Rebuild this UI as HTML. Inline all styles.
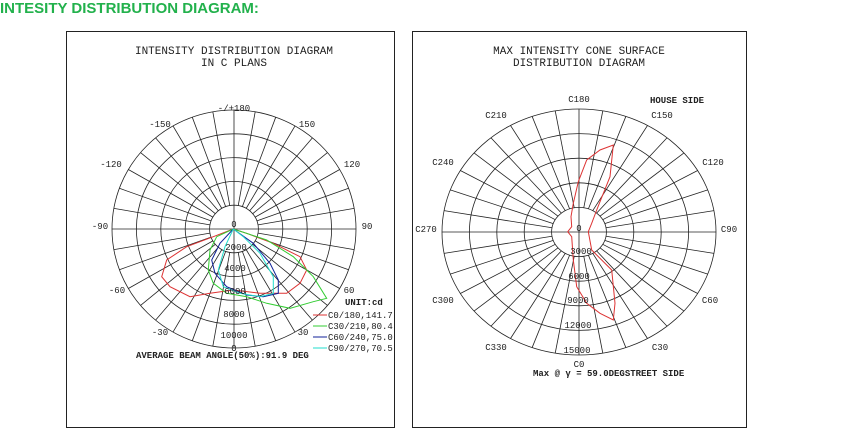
<!DOCTYPE html>
<html><head><meta charset="utf-8"><style>
body{margin:0;background:#fff;width:861px;height:441px;overflow:hidden;position:relative}
.h{position:absolute;left:0;top:0;font:bold 15px "Liberation Sans",sans-serif;color:#22b14c}
svg{position:absolute;left:0;top:0}
svg text{font-family:"Liberation Mono","DejaVu Sans Mono",monospace;font-size:9px;fill:#222}
svg text.t{font-size:11px}
</style></head><body>
<div class="h">INTESITY DISTRIBUTION DIAGRAM:</div>
<svg id="s" width="861" height="441" font-family="Liberation Mono, monospace">
<rect x="66.5" y="31.5" width="328" height="396" fill="none" stroke="#222"/>
<rect x="412.5" y="31.5" width="334" height="396" fill="none" stroke="#222"/>
<g id="gg"></g>
<g text-anchor="middle">
<text class="t" x="234" y="54">INTENSITY DISTRIBUTION DIAGRAM</text>
<text class="t" x="234" y="66">IN C PLANS</text>
<text class="t" x="579" y="54">MAX INTENSITY CONE SURFACE</text>
<text class="t" x="579" y="66">DISTRIBUTION DIAGRAM</text>
<text x="234" y="111">-/+180</text><text x="307" y="127">150</text><text x="352" y="167">120</text>
<text x="367" y="229">90</text><text x="349" y="293">60</text><text x="303" y="335">30</text>
<text x="160" y="335">-30</text><text x="117" y="293">-60</text><text x="100" y="229">-90</text>
<text x="111" y="167">-120</text><text x="160" y="127">-150</text>
<text x="234" y="227">0</text><text x="236" y="250">2000</text><text x="235" y="271">4000</text>
<text x="235" y="294">6000</text><text x="234" y="317">8000</text><text x="234" y="338">10000</text><text x="234" y="351">0</text>
<text x="579" y="102">C180</text><text x="662" y="118">C150</text><text x="496" y="118">C210</text>
<text x="443" y="165">C240</text><text x="713" y="165">C120</text><text x="426" y="232">C270</text>
<text x="729" y="232">C90</text><text x="443" y="303">C300</text><text x="710" y="303">C60</text>
<text x="496" y="350">C330</text><text x="660" y="350">C30</text><text x="579" y="367">C0</text>
<text x="579" y="231">0</text><text x="581" y="254">3000</text><text x="579" y="279">6000</text>
<text x="578" y="303">9000</text><text x="578" y="328">12000</text><text x="577" y="353">15000</text>
</g>
<text x="650" y="103" font-weight="bold">HOUSE SIDE</text>
<text x="533" y="376" font-weight="bold">Max @ γ = 59.0DEGSTREET SIDE</text>
<text x="136" y="358" font-weight="bold">AVERAGE BEAM ANGLE(50%):91.9 DEG</text>
<text x="345" y="305" font-weight="bold">UNIT:cd</text>
<g>
<line x1="313" y1="315" x2="327" y2="315" stroke="#d33"/><text x="328" y="318">C0/180,141.7</text>
<line x1="313" y1="326" x2="327" y2="326" stroke="#3c3"/><text x="328" y="329">C30/210,80.4</text>
<line x1="313" y1="337" x2="327" y2="337" stroke="#129"/><text x="328" y="340">C60/240,75.0</text>
<line x1="313" y1="348" x2="327" y2="348" stroke="#2dc"/><text x="328" y="351">C90/270,70.5</text>
</g>
</svg>
<script>
var g=document.getElementById('gg'),NS='http://www.w3.org/2000/svg';
function el(t,a){var e=document.createElementNS(NS,t);for(var k in a)e.setAttribute(k,a[k]);g.appendChild(e);return e}
function grid(cx,cy,rx,ry){
 for(var i=0;i<5;i++){var f=(i+1)/5;el('ellipse',{cx:cx,cy:cy,rx:rx*f,ry:ry*f,fill:'none',stroke:'#222','stroke-width':0.8});}
 for(var a=0;a<360;a+=10){var c=Math.cos(a*Math.PI/180),d=Math.sin(a*Math.PI/180);var st=(a%90==0)?0:1;
  el('line',{x1:cx+c*rx/5*st,y1:cy+d*ry/5*st,x2:cx+c*rx,y2:cy+d*ry,stroke:'#222','stroke-width':0.8});}
}
grid(234,229,122,119);grid(579,232,137,123);
function poly(pts,col,ox,oy){var p=[];for(var i=0;i<pts.length;i+=2)p.push((ox+pts[i]/3).toFixed(1)+','+(oy+pts[i+1]/3).toFixed(1));
 el('polyline',{points:p.join(' '),fill:'none',stroke:col,'stroke-width':1});}
poly([520,597,460,620,380,650,320,690,305,740,330,770,390,800,450,790,520,780,600,790,680,790,720,760,740,720,720,680,640,640,560,610,520,597],'#d33',60,30);
poly([520,597,470,620,450,660,445,720,460,760,500,790,560,800,620,820,690,835,760,815,800,805,760,740,700,680,620,630,520,597],'#3c3',60,30);
poly([520,597,480,640,455,690,465,730,500,770,560,795,610,800,655,790,655,750,630,700,580,640,520,597],'#129',60,30);
poly([520,597,495,650,475,720,490,770,540,790,600,800,640,790,640,740,600,670,550,620,520,597],'#2dc',60,30);
poly([505,455,490,520,483,560,485,590,473,605,485,620,490,690,500,770,530,820,570,850,610,870,615,820,605,720,575,690,545,660,535,605,545,580,560,540,600,440,610,345,570,360,530,390,505,455],'#d33',410,30);
</script>
</body></html>
